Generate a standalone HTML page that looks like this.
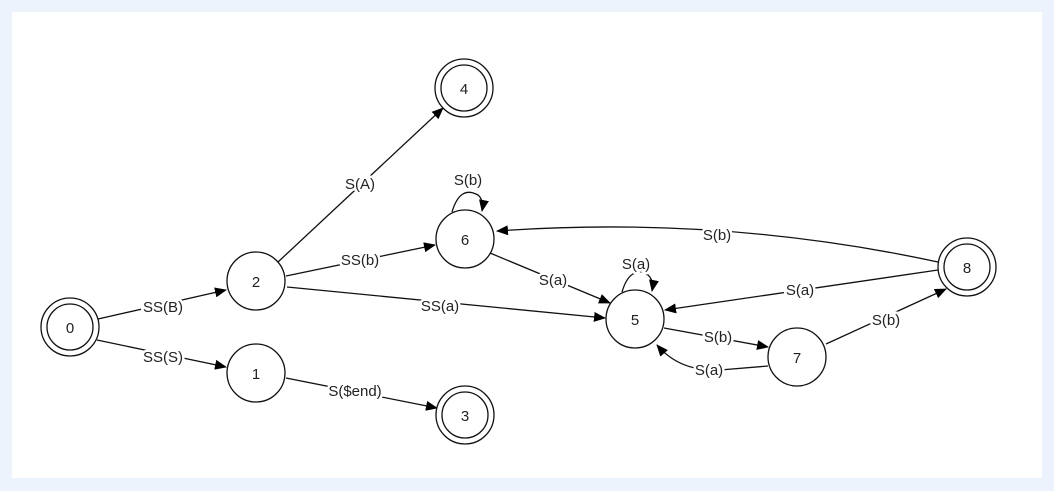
<!DOCTYPE html><html><head><style>html,body{margin:0;padding:0;background:#edf3fc}svg{display:block}text{font-family:"Liberation Sans",Arial,sans-serif;font-size:15px;fill:#222}</style></head><body>
<svg width="1054" height="491" viewBox="0 0 1054 491">
<defs><marker id="a" markerWidth="12" markerHeight="10" refX="11" refY="5" orient="auto" markerUnits="userSpaceOnUse"><path d="M0,0L12,5L0,10z" fill="#000"/></marker></defs>
<rect x="12" y="12" width="1030" height="466" fill="#fff"/>
<g stroke="#111" stroke-width="1.3" fill="none" marker-end="url(#a)">
<path d="M98,319L226,290"/>
<path d="M97,340L226,367"/>
<path d="M278,262L443,108"/>
<path d="M286,276L435,245"/>
<path d="M287,287L605,318"/>
<path d="M286,378L437,408"/>
<path d="M490,253L610,303"/>
<path d="M452,212Q460,185 478,195Q484,200 482,211"/>
<path d="M622,292Q630,265 648,275Q654,280 652,291"/>
<path d="M938,262Q720,215 497,231"/>
<path d="M938,270L665,310"/>
<path d="M664,328L768,347"/>
<path d="M768,366L720,370Q680,372 657,345"/>
<path d="M826,344L946,289"/>
</g>
<g stroke="#111" stroke-width="1.3" fill="#fff">
<circle cx="70" cy="327" r="29"/><circle cx="70" cy="327" r="23"/>
<circle cx="256" cy="281" r="29"/>
<circle cx="256" cy="373" r="29"/>
<circle cx="464" cy="88" r="29"/><circle cx="464" cy="88" r="23"/>
<circle cx="465" cy="239" r="29"/>
<circle cx="465" cy="415" r="29"/><circle cx="465" cy="415" r="23"/>
<circle cx="635" cy="319" r="29"/>
<circle cx="797" cy="357" r="29"/>
<circle cx="967" cy="267" r="29"/><circle cx="967" cy="267" r="23"/>
</g>
<g text-anchor="middle" style="font-size:16px">
<text x="70" y="333">0</text><text x="256" y="287">2</text><text x="256" y="379">1</text>
<text x="464" y="94">4</text><text x="465" y="245">6</text><text x="465" y="421">3</text>
<text x="635" y="325">5</text><text x="797" y="363">7</text><text x="967" y="273">8</text>
</g>
<g text-anchor="middle" stroke="#fff" stroke-width="5" paint-order="stroke">
<text x="163" y="312">SS(B)</text>
<text x="163" y="362">SS(S)</text>
<text x="360" y="189">S(A)</text>
<text x="360" y="265">SS(b)</text>
<text x="440" y="311">SS(a)</text>
<text x="355" y="396">S($end)</text>
<text x="553" y="285">S(a)</text>
<text x="468" y="185">S(b)</text>
<text x="636" y="269">S(a)</text>
<text x="717" y="240">S(b)</text>
<text x="800" y="295">S(a)</text>
<text x="718" y="342">S(b)</text>
<text x="709" y="375">S(a)</text>
<text x="886" y="325">S(b)</text>
</g>
</svg></body></html>
